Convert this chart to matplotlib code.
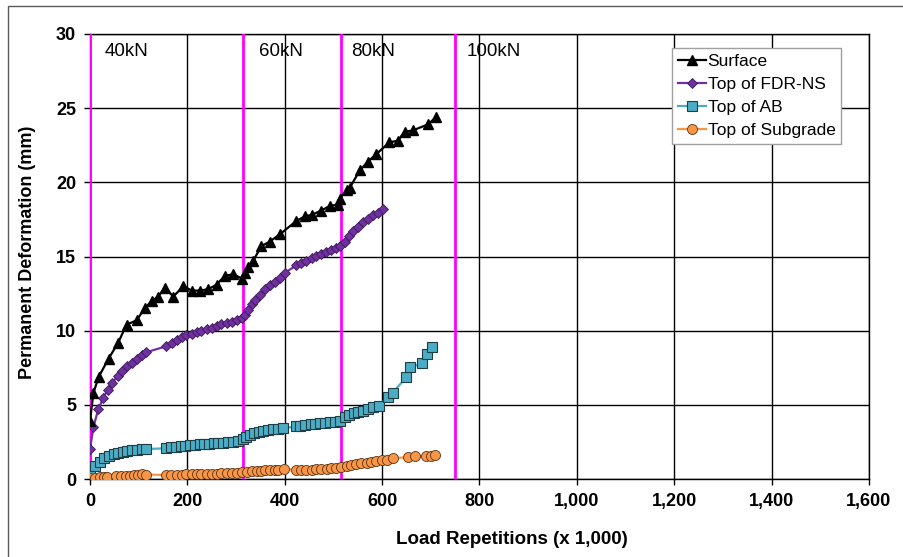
import matplotlib
matplotlib.use('Agg')
import matplotlib.pyplot as plt
from matplotlib.ticker import FuncFormatter, MultipleLocator
from matplotlib.patches import Rectangle

plt.rcParams['font.family'] = ['Liberation Sans', 'DejaVu Sans']

# Surface
surf_x = [0, 7, 18, 38, 58, 75, 96, 112, 127, 140, 154, 171, 192, 209, 226, 243, 260, 277, 294,
          313, 318, 325, 335, 352, 369, 390, 424, 441, 455, 475, 492, 509, 513, 527, 533, 554,
          571, 588, 615, 632, 646, 663, 694, 711]
surf_y = [3.9, 5.8, 6.9, 8.1, 9.2, 10.4, 10.7, 11.5, 12.0, 12.3, 12.9, 12.3, 13.0, 12.7, 12.7,
          12.8, 13.1, 13.7, 13.8, 13.5, 13.9, 14.3, 14.7, 15.7, 16.0, 16.5, 17.4, 17.7, 17.8,
          18.1, 18.4, 18.5, 18.9, 19.5, 19.6, 20.8, 21.4, 21.9, 22.7, 22.8, 23.4, 23.5, 23.9, 24.4]

# Top of FDR-NS
fdr_x = [0, 7, 17, 27, 36, 46, 57, 66, 77, 87, 97, 107, 116, 157, 168, 178, 188, 198, 209, 219,
         229, 240, 250, 260, 270, 281, 291, 301, 312, 319, 325, 332, 339, 349, 359, 370, 380, 390,
         400, 424, 434, 444, 455, 465, 475, 485, 496, 506, 513, 523, 532, 541, 550, 560, 571, 581,
         591, 601]
fdr_y = [2.0, 3.5, 4.7, 5.45, 6.0, 6.5, 6.95, 7.3, 7.6, 7.85, 8.1, 8.35, 8.55, 8.95, 9.2, 9.4,
         9.55, 9.7, 9.8, 9.9, 10.0, 10.1, 10.2, 10.3, 10.45, 10.55, 10.6, 10.7, 10.85, 11.05, 11.4,
         11.8, 12.1, 12.4, 12.8, 13.1, 13.3, 13.55, 13.9, 14.4, 14.55, 14.7, 14.9, 15.05, 15.2,
         15.3, 15.45, 15.6, 15.7, 16.0, 16.4, 16.7, 17.0, 17.3, 17.5, 17.8, 17.95, 18.2]

# Top of AB
ab_x = [0, 10, 20, 29, 39, 49, 58, 68, 77, 87, 97, 107, 116,
        156, 166, 176, 186, 195, 205, 215, 226, 234, 244, 254, 263, 273, 284, 294, 304, 314,
        320, 328, 337, 347, 356, 366, 376, 386, 397,
        423, 432, 442, 453, 462, 472, 482, 492, 503, 513,
        523, 532, 542, 551, 561, 571, 581, 593,
        612, 622, 650, 658, 682, 692, 702]
ab_y = [0.5, 0.85, 1.15, 1.4, 1.55, 1.7, 1.78, 1.85, 1.9, 1.95, 1.97, 2.0, 2.02,
        2.07, 2.14, 2.18, 2.23, 2.25, 2.3, 2.32, 2.34, 2.36, 2.39, 2.41, 2.43, 2.46, 2.48, 2.52,
        2.58, 2.68,
        2.85, 3.0, 3.13, 3.2, 3.26, 3.31, 3.36, 3.4, 3.42,
        3.54, 3.6, 3.65, 3.69, 3.74, 3.78, 3.8, 3.83, 3.87, 3.94,
        4.17, 4.32, 4.44, 4.53, 4.61, 4.7, 4.84, 4.93,
        5.56, 5.83, 6.87, 7.52, 7.8, 8.45, 8.9]

# Top of Subgrade
sg_x = [0, 10, 20, 29, 35, 54, 63, 73, 82, 91, 99, 107, 116,
        157, 167, 178, 188, 198, 209, 219, 229, 240, 250, 260, 270, 281, 291, 301, 312,
        323, 333, 343, 351, 359, 369, 379, 387, 399,
        424, 434, 444, 455, 465, 475, 486, 496, 506, 516, 527, 537, 547, 557, 568, 578, 588,
        599, 609, 622,
        654, 667, 690, 700, 708]
sg_y = [0.05, 0.1, 0.12, 0.13, 0.15, 0.17, 0.18, 0.2, 0.22, 0.25, 0.28, 0.33, 0.3,
        0.27, 0.28, 0.29, 0.3, 0.31, 0.32, 0.33, 0.34, 0.35, 0.36, 0.37, 0.38, 0.39, 0.4,
        0.42, 0.44,
        0.48, 0.52, 0.55, 0.56, 0.6, 0.6, 0.63, 0.62, 0.68,
        0.6, 0.6, 0.62, 0.63, 0.65, 0.67, 0.7, 0.72, 0.75, 0.8, 0.87, 0.93, 1.0, 1.05, 1.1,
        1.17, 1.22, 1.25, 1.28, 1.4,
        1.47, 1.52, 1.55, 1.57, 1.62]

load_changes = [0, 315, 515, 750]
load_labels = ['40kN', '60kN', '80kN', '100kN']
label_x = [31, 347, 537, 773]

fig = plt.figure(figsize=(9.04, 5.57), dpi=100)
ax = fig.add_axes([90/904, 1-479/557, 779/904, 445/557])

ax.plot(surf_x, surf_y, color='black', lw=1.6, marker='^', ms=7.5, mfc='black', mec='black',
        label='Surface', zorder=5)
ax.plot(fdr_x, fdr_y, color='#7030A0', lw=1.6, marker='D', ms=5.5, mfc='#7030A0', mec='#3a1a55',
        mew=0.6, label='Top of FDR-NS', zorder=4)
ax.plot(ab_x, ab_y, color='#4BACC6', lw=1.6, marker='s', ms=7, mfc='#4BACC6', mec='#1f3d45',
        mew=0.8, label='Top of AB', zorder=4)
ax.plot(sg_x, sg_y, color='#F79646', lw=1.6, marker='o', ms=7.2, mfc='#F79646', mec='#5a3010',
        mew=0.6, label='Top of Subgrade', zorder=4)

for xv in load_changes:
    ax.plot([xv, xv], [0, 30], color='#FF00FF', lw=2, zorder=3)
for txt, xv in zip(load_labels, label_x):
    ax.text(xv, 28.85, txt, fontsize=13.5, va='center', ha='left')

ax.set_xlim(0, 1600)
ax.set_ylim(0, 30)
ax.xaxis.set_major_locator(MultipleLocator(200))
ax.yaxis.set_major_locator(MultipleLocator(5))
ax.xaxis.set_major_formatter(FuncFormatter(lambda v, p: '{:,.0f}'.format(v)))
ax.grid(True, color='black', lw=1)
ax.set_axisbelow(True)
for s in ax.spines.values():
    s.set_color('black')
    s.set_linewidth(1)
ax.tick_params(direction='out', length=4, width=1, labelsize=13, pad=6)
for lab in ax.get_xticklabels() + ax.get_yticklabels():
    lab.set_fontweight('bold')

leg = ax.legend(loc='upper left', bbox_to_anchor=(0.747, 0.9685), borderaxespad=0,
                fontsize=12.5, fancybox=False, framealpha=1, edgecolor='#a0a0a0',
                handlelength=1.6, handletextpad=0.1, labelspacing=0.45, borderpad=0.35)
leg.get_frame().set_linewidth(1)

fig.text(512/904, 1-540/557, 'Load Repetitions (x 1,000)', fontsize=13.5, fontweight='bold',
         ha='center', va='center')
fig.text(28/904, 1-252/557, 'Permanent Deformation (mm)', fontsize=13, fontweight='bold',
         ha='center', va='center', rotation=90)

fig.patches.append(Rectangle((8/904, -0.1), 1.2, 1.1 - 6/557, transform=fig.transFigure,
                             fill=False, edgecolor='#595959', lw=1))

fig.savefig('out.png', dpi=100)
